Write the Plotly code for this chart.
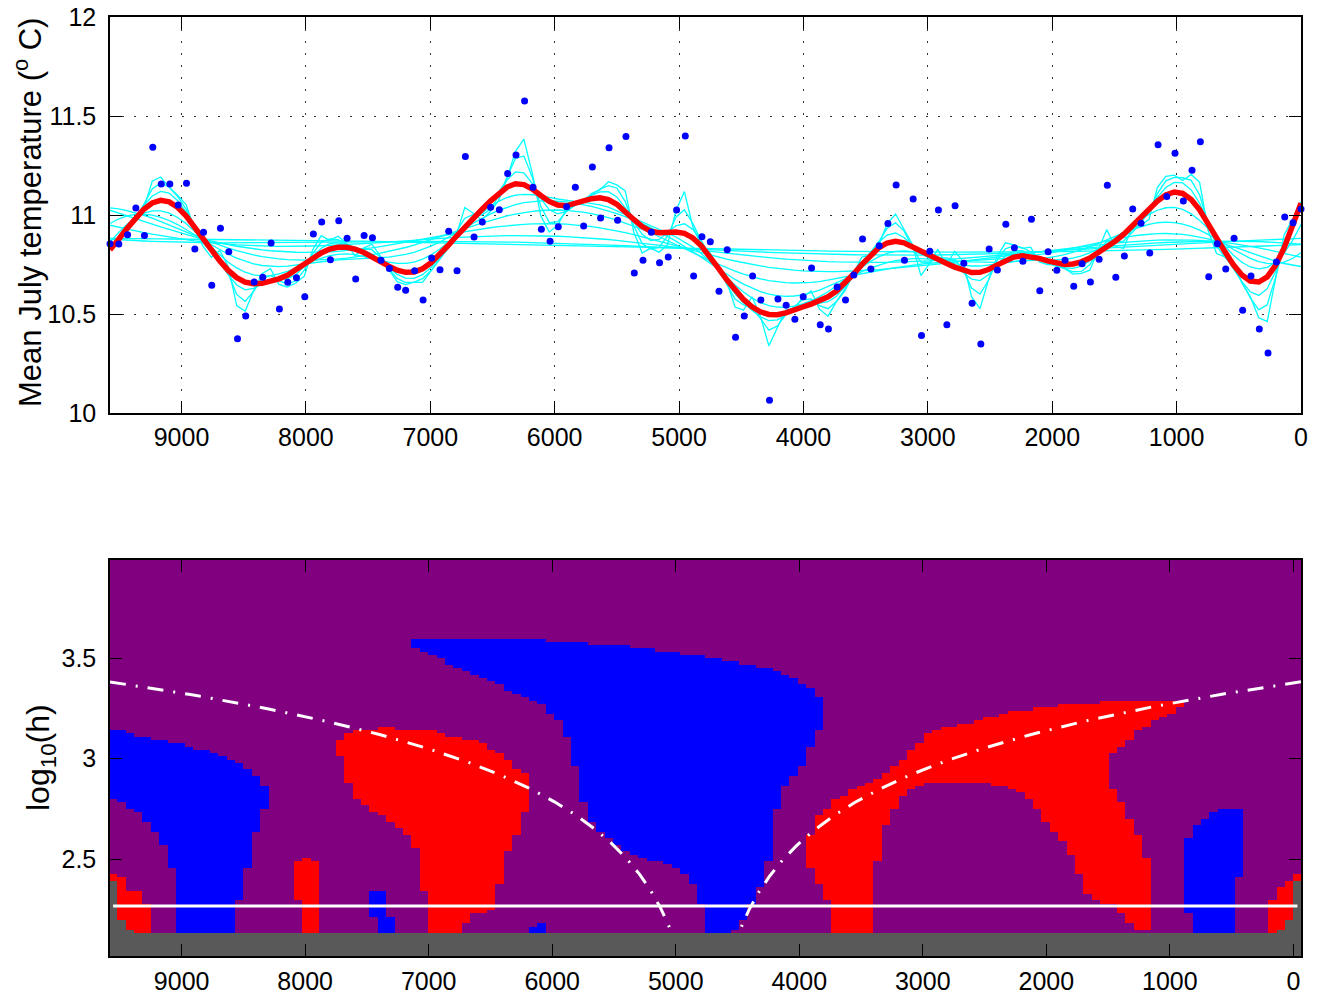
import numpy as np
import plotly.graph_objects as go

# ---------------------------------------------------------------- data
YEARS = [9575, 9504, 9434, 9367, 9298, 9231, 9163, 9094, 9027, 8960,
         8893, 8823, 8757, 8687, 8620, 8550, 8484, 8416, 8347, 8280,
         8213, 8146, 8076, 8009, 7940, 7873, 7803, 7736, 7669, 7600,
         7532, 7465, 7396, 7329, 7262, 7198, 7126, 7058, 6989, 6922,
         6852, 6785, 6718, 6648, 6582, 6515, 6445, 6378, 6311, 6242,
         6174, 6107, 6037, 5971, 5904, 5834, 5767, 5697, 5631, 5563,
         5494, 5427, 5360, 5290, 5223, 5157, 5087, 5020, 4950, 4883,
         4816, 4749, 4679, 4613, 4546, 4476, 4409, 4342, 4273, 4205,
         4139, 4069, 4002, 3935, 3865, 3799, 3729, 3662, 3595, 3525,
         3458, 3391, 3321, 3255, 3188, 3118, 3051, 2984, 2915, 2847,
         2781, 2711, 2644, 2574, 2507, 2441, 2373, 2304, 2236, 2167,
         2100, 2033, 1963, 1897, 1827, 1760, 1693, 1623, 1557, 1489,
         1420, 1353, 1286, 1216, 1149, 1079, 1013, 946, 876, 809,
         742, 673, 605, 538, 469, 402, 335, 265, 198, 131,
         64, 0]

TEMPS = [10.855, 10.853, 10.900, 11.035, 10.896, 11.342, 11.157, 11.157, 11.051, 11.160,
         10.828, 10.913, 10.645, 10.933, 10.815, 10.375, 10.490, 10.662, 10.685, 10.859,
         10.525, 10.660, 10.683, 10.587, 10.904, 10.965, 10.774, 10.971, 10.882, 10.677,
         10.897, 10.885, 10.771, 10.730, 10.635, 10.620, 10.719, 10.571, 10.783, 10.724,
         10.918, 10.719, 11.296, 10.889, 10.965, 11.039, 11.027, 11.209, 11.303, 11.576,
         11.140, 10.928, 10.867, 10.941, 11.042, 11.140, 10.944, 11.242, 10.985, 11.340,
         10.973, 11.397, 10.707, 10.771, 10.913, 10.759, 10.788, 11.025, 11.399, 10.692,
         10.890, 10.865, 10.615, 10.825, 10.382, 10.490, 10.692, 10.571, 10.064, 10.576,
         10.544, 10.473, 10.587, 10.732, 10.446, 10.424, 10.636, 10.571, 10.697, 10.879,
         10.727, 10.845, 10.957, 11.152, 10.771, 11.081, 10.392, 10.817, 11.025, 10.446,
         11.047, 10.756, 10.554, 10.348, 10.828, 10.722, 10.953, 10.835, 10.766, 10.978,
         10.618, 10.815, 10.721, 10.771, 10.640, 10.754, 10.662, 10.776, 11.150, 10.685,
         10.793, 11.030, 10.958, 10.808, 11.355, 11.093, 11.312, 11.071, 11.226, 11.370,
         10.688, 10.855, 10.727, 10.882, 10.519, 10.692, 10.424, 10.303, 10.763, 10.990,
         10.961, 11.030]

# bandwidths (years) of the family of smooths and the highlighted one
FAMILY_H = [58, 86, 130, 190, 280, 410, 600, 890, 1300, 1920, 2820]
H_HIGHLIGHT = 185

# SiZer map grid: column centres (years) and row centres (log10 h)
MAP_X_FIRST, MAP_X_LAST, N_COLS = 9555, -33, 142
MAP_LOGH_FIRST, MAP_LOGH_LAST, N_ROWS = 2.027, 3.980, 121
MAP_X_RANGE = [9580, -62]
MAP_Y_RANGE = [2.019, 3.988]

# sparse-data (gray) boundary in log10 h: interior level and edge columns
GRAY_TOP = 2.13
GRAY_LEFT = [2.391, 2.192, 2.143, 2.135]
GRAY_RIGHT = [2.135, 2.143, 2.192, 2.391]

# significant regions: (kind, first column, lower log10 h, upper log10 h)
SIG_REGIONS = [
    ("incr", 0,
     [2.799, 2.784, 2.751, 2.735, 2.685, 2.635, 2.569, 2.453, 2.0, 2.0,
      2.0, 2.0, 2.0, 2.0, 2.0, 2.303, 2.453, 2.635, 2.749],
     [3.141, 3.141, 3.124, 3.108, 3.108, 3.094, 3.094, 3.078, 3.078, 3.061,
      3.045, 3.045, 3.030, 3.013, 2.992, 2.975, 2.942, 2.912, 2.862]),
    ("decr", 0,
     [2.0, 2.0, 2.0, 2.0, 2.0],
     [2.420, 2.403, 2.342, 2.342, 2.280]),
    ("decr", 22,
     [2.292, 2.0, 2.0],
     [2.486, 2.502, 2.486]),
    ("incr", 31,
     [2.209, 2.0, 2.0],
     [2.342, 2.342, 2.209]),
    ("incr", 50,
     [2.0, 2.0],
     [2.160, 2.176]),
    ("decr", 27,
     [3.016, 2.879, 2.801, 2.768, 2.735, 2.713, 2.685, 2.652, 2.619, 2.561,
      2.345, 2.0, 2.0, 2.0, 2.0, 2.179, 2.229, 2.229, 2.245, 2.370,
      2.536, 2.619, 2.735],
     [3.091, 3.128, 3.141, 3.141, 3.141, 3.154, 3.154, 3.141, 3.141, 3.141,
      3.141, 3.141, 3.128, 3.108, 3.108, 3.091, 3.091, 3.075, 3.041, 3.025,
      2.992, 2.942, 2.930]),
    ("incr", 36,
     [3.550, 3.534, 3.519, 3.501, 3.469, 3.451, 3.434, 3.418, 3.401, 3.385,
      3.368, 3.335, 3.318, 3.300, 3.285, 3.274, 3.224, 3.191, 3.108, 2.962,
      2.784, 2.685, 2.643, 2.605, 2.569, 2.532, 2.519, 2.502, 2.486, 2.486,
      2.474, 2.453, 2.420, 2.370, 2.275, 2.0, 2.0, 2.0, 2.143, 2.196,
      2.275, 2.353, 2.486, 2.746, 2.862, 2.912, 2.962, 3.061, 3.141],
     [3.599, 3.599, 3.599, 3.599, 3.599, 3.599, 3.599, 3.599, 3.599, 3.599,
      3.599, 3.599, 3.599, 3.599, 3.599, 3.599, 3.580, 3.580, 3.580, 3.580,
      3.580, 3.564, 3.564, 3.564, 3.564, 3.564, 3.549, 3.549, 3.549, 3.534,
      3.534, 3.534, 3.519, 3.519, 3.519, 3.499, 3.499, 3.484, 3.484, 3.469,
      3.469, 3.451, 3.451, 3.434, 3.418, 3.403, 3.370, 3.355, 3.305]),
    ("decr", 83,
     [2.453, 2.370, 2.292, 2.0, 2.0, 2.0, 2.0, 2.0, 2.486, 2.668,
      2.751, 2.812, 2.846, 2.862, 2.879, 2.879, 2.879, 2.879, 2.879, 2.879,
      2.879, 2.879, 2.862, 2.862, 2.846, 2.826, 2.796, 2.751, 2.685, 2.635,
      2.585, 2.519, 2.420, 2.320, 2.292, 2.278, 3.025, 3.061, 3.094, 3.141,
      3.157, 3.191, 3.207, 3.224, 3.257],
     [2.618, 2.713, 2.759, 2.796, 2.812, 2.846, 2.862, 2.875, 2.895, 2.925,
      2.962, 2.992, 3.041, 3.078, 3.124, 3.141, 3.157, 3.157, 3.174, 3.177,
      3.191, 3.207, 3.207, 3.224, 3.237, 3.240, 3.240, 3.254, 3.254, 3.257,
      3.270, 3.270, 3.270, 3.270, 3.277, 3.290, 3.290, 3.290, 3.290, 3.290,
      3.290, 3.290, 3.290, 3.290, 3.290]),
    ("decr", 119,
     [2.278, 2.229, 2.179, 2.143, 2.143],
     [2.851, 2.784, 2.697, 2.618, 2.502]),
    ("incr", 128,
     [2.229, 2.0, 2.0, 2.0, 2.0, 2.0, 2.408],
     [2.599, 2.668, 2.697, 2.735, 2.748, 2.748, 2.748]),
    ("decr", 138,
     [2.0, 2.0, 2.0, 2.0],
     [2.303, 2.353, 2.391, 2.420]),
]

# ---------------------------------------------------------------- styles
FONT = "Liberation Sans, Arial, Helvetica, sans-serif"
C_GRAY, C_PURPLE, C_BLUE, C_RED = "#595959", "#800080", "#0000ff", "#ff0000"
CODE = {"sparse": 0, "flat": 1, "incr": 2, "decr": 3}


def local_linear(x, y, grid, h):
    """Gaussian-kernel local linear regression evaluated on grid."""
    out = np.empty(len(grid))
    for k, g in enumerate(grid):
        d = x - g
        w = np.exp(-0.5 * (d / h) ** 2)
        s0, s1, s2 = w.sum(), (w * d).sum(), (w * d * d).sum()
        t0, t1 = (w * y).sum(), (w * d * y).sum()
        out[k] = (s2 * t0 - s1 * t1) / (s0 * s2 - s1 * s1)
    return out


x = np.asarray(YEARS, float)
y = np.asarray(TEMPS, float)
grid = np.linspace(x.min(), x.max(), N_COLS)

fig = go.Figure()

# family of smooths
for h in FAMILY_H:
    fig.add_trace(go.Scatter(x=grid, y=local_linear(x, y, grid, h), mode="lines",
                             line=dict(color="#00ffff", width=1.3),
                             hoverinfo="skip", showlegend=False,
                             xaxis="x", yaxis="y"))
# highlighted smooth
fig.add_trace(go.Scatter(x=grid, y=local_linear(x, y, grid, H_HIGHLIGHT), mode="lines",
                         line=dict(color=C_RED, width=5.5),
                         showlegend=False, xaxis="x", yaxis="y"))
# observations
fig.add_trace(go.Scatter(x=x, y=y, mode="markers",
                         marker=dict(color=C_BLUE, size=7, line=dict(width=0)),
                         cliponaxis=False, showlegend=False, xaxis="x", yaxis="y"))

# ---------------------------------------------------------------- SiZer map
map_x = np.linspace(MAP_X_FIRST, MAP_X_LAST, N_COLS)
map_y = np.linspace(MAP_LOGH_FIRST, MAP_LOGH_LAST, N_ROWS)
z = np.full((N_ROWS, N_COLS), CODE["flat"])
for kind, j0, lo, hi in SIG_REGIONS:
    for k, (a, b) in enumerate(zip(lo, hi)):
        z[(map_y >= a) & (map_y <= b), j0 + k] = CODE[kind]
gray_top = np.full(N_COLS, GRAY_TOP)
gray_top[:len(GRAY_LEFT)] = GRAY_LEFT
gray_top[N_COLS - len(GRAY_RIGHT):] = GRAY_RIGHT
for j in range(N_COLS):
    z[map_y < gray_top[j], j] = CODE["sparse"]

fig.add_trace(go.Heatmap(
    x=map_x, y=map_y, z=z, zmin=0, zmax=3, showscale=False, hoverinfo="skip",
    colorscale=[[0, C_GRAY], [1 / 6, C_GRAY], [1 / 6, C_PURPLE], [0.5, C_PURPLE],
                [0.5, C_BLUE], [5 / 6, C_BLUE], [5 / 6, C_RED], [1, C_RED]],
    xaxis="x2", yaxis="y2"))

centre = (MAP_X_FIRST + MAP_X_LAST) / 2
for edge in MAP_X_RANGE:
    sgn = 1 if edge > centre else -1
    lh = np.linspace(np.log10(abs(edge - centre) / 2), GRAY_TOP, 200)
    fig.add_trace(go.Scatter(x=centre + sgn * 2 * 10 ** lh, y=lh, mode="lines",
                             line=dict(color="white", width=3, dash="16px,10px,2px,10px"),
                             hoverinfo="skip", showlegend=False, xaxis="x2", yaxis="y2"))
# highlighted bandwidth
fig.add_trace(go.Scatter(x=[map_x[0], map_x[-1]], y=[np.log10(H_HIGHLIGHT)] * 2, mode="lines",
                         line=dict(color="white", width=3), hoverinfo="skip",
                         showlegend=False, xaxis="x2", yaxis="y2"))

# ---------------------------------------------------------------- layout
axis_common = dict(showline=True, linecolor="black", linewidth=1.5, mirror="ticks",
                   ticks="inside", ticklen=12, tickwidth=1.3, tickcolor="black",
                   tickfont=dict(family=FONT, size=25, color="black"), zeroline=False,
                   automargin=False)
W, H = 1320, 996
xdom = [110 / W, 1301 / W]

fig.update_layout(
    width=W, height=H, margin=dict(l=0, r=0, t=0, b=0, autoexpand=False),
    paper_bgcolor="white", plot_bgcolor="white", showlegend=False,
    xaxis=dict(domain=xdom, anchor="y", range=[max(YEARS), min(YEARS)],
               tick0=0, dtick=1000, showgrid=True, gridcolor="#333333",
               gridwidth=1, griddash="2px,10px", ticklabelstandoff=1, **axis_common),
    yaxis=dict(domain=[1 - 413 / H, 1 - 17 / H], anchor="x", range=[10, 12],
               tick0=10, dtick=0.5, showgrid=True, gridcolor="#333333",
               gridwidth=1, griddash="2px,10px", ticklabelstandoff=7, **axis_common),
    xaxis2=dict(domain=xdom, anchor="y2", range=MAP_X_RANGE, tick0=0, dtick=1000,
                showgrid=False, ticklabelstandoff=2, **axis_common),
    yaxis2=dict(domain=[1 - 956 / H, 1 - 560 / H], anchor="x2", range=MAP_Y_RANGE,
                tickvals=[2.5, 3, 3.5], showgrid=False, ticklabelstandoff=7, **axis_common),
    annotations=[
        dict(text="Mean July temperature (<sup>o</sup> C)", textangle=-90,
             x=28 / W, y=1 - 213 / H, xref="paper", yref="paper",
             xanchor="center", yanchor="middle", showarrow=False,
             font=dict(family=FONT, size=31, color="black")),
        dict(text="log<sub>10</sub>(h)", textangle=-90,
             x=40 / W, y=1 - 758 / H, xref="paper", yref="paper",
             xanchor="center", yanchor="middle", showarrow=False,
             font=dict(family=FONT, size=32, color="black")),
    ],
)

fig.write_html("out.html")
